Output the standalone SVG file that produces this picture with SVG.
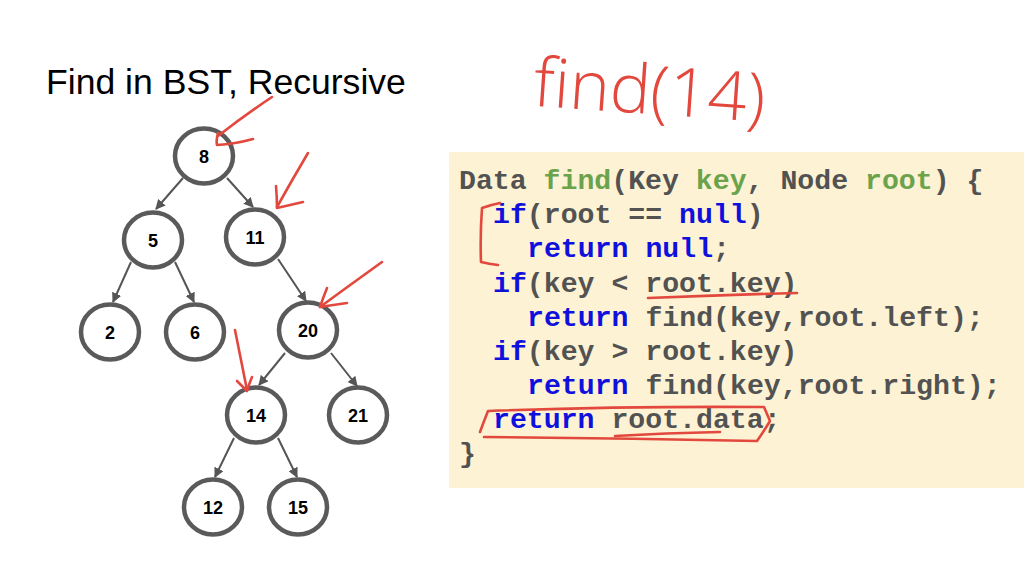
<svg xmlns="http://www.w3.org/2000/svg" width="1024" height="576" viewBox="0 0 1024 576">
<style>
.node ellipse{fill:#fff;stroke:#5a5a5a;stroke-width:4.5}
.node text{font-family:"Liberation Sans",Arial,sans-serif;font-weight:bold;font-size:18px;fill:#000;text-anchor:middle;dominant-baseline:central}
.edge{stroke:#555;stroke-width:2;fill:none;marker-end:url(#ah)}
.code{font-family:"Liberation Mono","Courier New",monospace;font-weight:bold;font-size:28.2px;fill:#525252}
.kw{fill:#1010dd}
.gr{fill:#6aa34c}
.ink{fill:none;stroke:#e2483d;stroke-width:2.6;stroke-linecap:round;stroke-linejoin:round}
</style>
<defs>
<marker id="ah" viewBox="0 0 10 10" refX="9" refY="5" markerWidth="5" markerHeight="5" orient="auto" markerUnits="strokeWidth">
<path d="M0,0 L10,5 L0,10 z" fill="#555"/>
</marker>
</defs>
<rect width="1024" height="576" fill="#fff"/>
<text x="46" y="94" font-family="Liberation Sans,Arial,sans-serif" font-size="35.6" fill="#000">Find in BST, Recursive</text>
<text x="533" y="114" font-family="Open Sans,sans-serif" font-weight="300" font-size="68" fill="#e2483d" textLength="232" lengthAdjust="spacingAndGlyphs" transform="rotate(4 650 100)">find(14)</text>
<rect x="449" y="152" width="575" height="336" fill="#fdf2d3"/>
<g id="connectors">
<line class="edge" x1="183" y1="178" x2="156" y2="209"/>
<line class="edge" x1="227" y1="178" x2="253" y2="207"/>
<line class="edge" x1="131" y1="262" x2="113" y2="302"/>
<line class="edge" x1="175" y1="262" x2="194" y2="302"/>
<line class="edge" x1="278" y1="259" x2="306" y2="301"/>
<line class="edge" x1="285" y1="353" x2="259" y2="385"/>
<line class="edge" x1="331" y1="353" x2="357" y2="386"/>
<line class="edge" x1="234" y1="438" x2="215" y2="477"/>
<line class="edge" x1="278" y1="438" x2="297" y2="477"/>
</g>
<g id="n8" class="node"><ellipse cx="204" cy="156" rx="29" ry="27.5"/><text x="204" y="157">8</text></g>
<g id="n5" class="node"><ellipse cx="153" cy="240" rx="29" ry="27.5"/><text x="153" y="241">5</text></g>
<g id="n11" class="node"><ellipse cx="255" cy="237" rx="29" ry="27.5"/><text x="255" y="238">11</text></g>
<g id="n2" class="node"><ellipse cx="110" cy="332" rx="29" ry="27.5"/><text x="110" y="333">2</text></g>
<g id="n6" class="node"><ellipse cx="195" cy="332" rx="29" ry="27.5"/><text x="195" y="333">6</text></g>
<g id="n20" class="node"><ellipse cx="308" cy="330" rx="29" ry="27.5"/><text x="308" y="331">20</text></g>
<g id="n14" class="node"><ellipse cx="256" cy="415" rx="29" ry="27.5"/><text x="256" y="416">14</text></g>
<g id="n21" class="node"><ellipse cx="358" cy="415" rx="29" ry="27.5"/><text x="358" y="416">21</text></g>
<g id="n12" class="node"><ellipse cx="213" cy="507" rx="29" ry="27.5"/><text x="213" y="508">12</text></g>
<g id="n15" class="node"><ellipse cx="298" cy="507" rx="29" ry="27.5"/><text x="298" y="508">15</text></g>
<g id="code" class="code" xml:space="preserve">
<text x="459" y="189">Data <tspan class="gr">find</tspan>(Key <tspan class="gr">key</tspan>, Node <tspan class="gr">root</tspan>) {</text>
<text x="493" y="223"><tspan class="kw">if</tspan>(root == <tspan class="kw">null</tspan>)</text>
<text x="527" y="257"><tspan class="kw">return</tspan> <tspan class="kw">null</tspan>;</text>
<text x="493" y="292"><tspan class="kw">if</tspan>(key &lt; root.key)</text>
<text x="527" y="326"><tspan class="kw">return</tspan> find(key,root.left);</text>
<text x="493" y="360"><tspan class="kw">if</tspan>(key &gt; root.key)</text>
<text x="527" y="394"><tspan class="kw">return</tspan> find(key,root.right);</text>
<text x="493" y="428"><tspan class="kw">return</tspan> root.data;</text>
<text x="459" y="462">}</text>
</g>
<g id="annotations" class="ink">
<path d="M272 97 Q245 115 218 136"/>
<path d="M218 133 Q216 140 217 145 Q235 144 253 139"/>
<path d="M308 153 Q292 180 277 207"/>
<path d="M276 186 Q277 198 277 208 Q290 205 303 202"/>
<path d="M382 262 Q350 285 320 307"/>
<path d="M327 288 Q323 298 320 307 Q333 305 347 303"/>
<path d="M235 330 Q241 360 247 390"/>
<path d="M237 381 Q242 386 247 391 Q249 384 252 377"/>
<path d="M500 203 Q490 205 482 208 Q480 235 481 262 Q489 264 498 265"/>
<path d="M648 298 Q720 295 797 293"/>
<path d="M480 432 Q484 421 488 411 Q625 406 764 407 Q767 414 770 421 Q764 431 757 441 Q620 438 484 437"/>
<path d="M615 436 Q665 433 720 432"/>
</g>
</svg>
